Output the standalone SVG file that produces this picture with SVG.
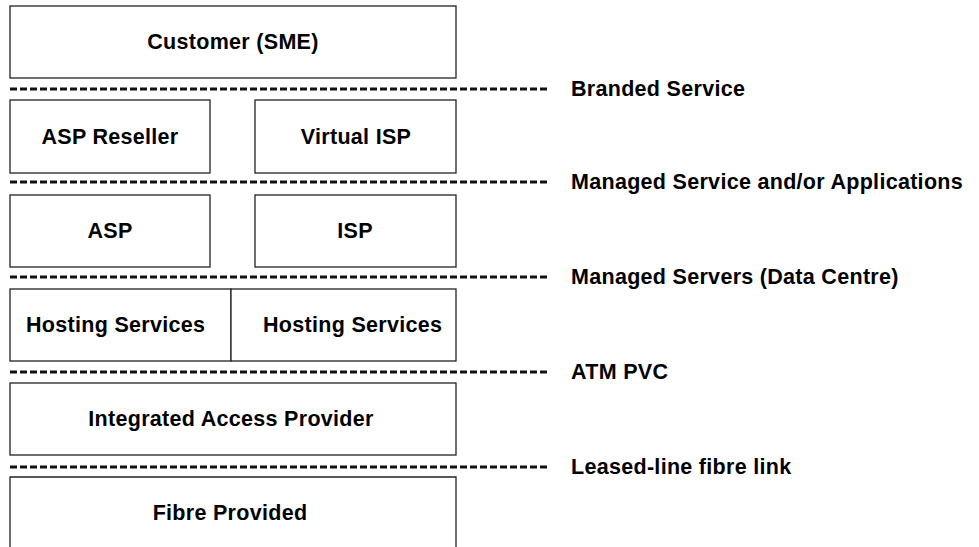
<svg xmlns="http://www.w3.org/2000/svg" width="979" height="547" viewBox="0 0 979 547">
<style>
.box{fill:#fff;stroke:#222;stroke-width:1.3}
.dash{stroke:#111;stroke-width:3;stroke-dasharray:7 3;fill:none}
text{font-family:"Liberation Sans",Arial,sans-serif;font-weight:bold;font-size:21.5px;letter-spacing:0.3px;fill:#000}
.c{text-anchor:middle}
</style>
<rect width="979" height="547" fill="#fff"/>
<g id="customer"><rect class="box" x="10" y="6" width="446" height="72"/><text class="c" x="233" y="49">Customer (SME)</text></g>
<g id="asp-reseller"><rect class="box" x="10" y="100" width="200" height="73"/><text class="c" x="110" y="144">ASP Reseller</text></g>
<g id="virtual-isp"><rect class="box" x="255" y="100" width="201" height="73"/><text class="c" x="356" y="144">Virtual ISP</text></g>
<g id="asp"><rect class="box" x="10" y="195" width="200" height="72"/><text class="c" x="110" y="238">ASP</text></g>
<g id="isp"><rect class="box" x="255" y="195" width="201" height="72"/><text class="c" x="355" y="238">ISP</text></g>
<g id="hosting-1"><rect class="box" x="10" y="289" width="221" height="72"/><text x="26" y="332">Hosting Services</text></g>
<g id="hosting-2"><rect class="box" x="231" y="289" width="225" height="72"/><text x="263" y="332">Hosting Services</text></g>
<g id="iap"><rect class="box" x="10" y="383" width="446" height="72"/><text class="c" x="231" y="426">Integrated Access Provider</text></g>
<g id="fibre"><path class="box" d="M10 560 V477 H456 V560"/><text class="c" x="230" y="520">Fibre Provided</text></g>
<g id="connectors">
<line class="dash" x1="10" y1="89" x2="548" y2="89"/>
<line class="dash" x1="10" y1="182" x2="548" y2="182"/>
<line class="dash" x1="10" y1="277" x2="548" y2="277"/>
<line class="dash" x1="10" y1="372" x2="548" y2="372"/>
<line class="dash" x1="10" y1="467" x2="548" y2="467"/>
</g>
<g id="labels">
<text x="571" y="96">Branded Service</text>
<text x="571" y="189">Managed Service and/or Applications</text>
<text x="571" y="284">Managed Servers (Data Centre)</text>
<text x="571" y="379">ATM PVC</text>
<text x="571" y="474">Leased-line fibre link</text>
</g>
</svg>
